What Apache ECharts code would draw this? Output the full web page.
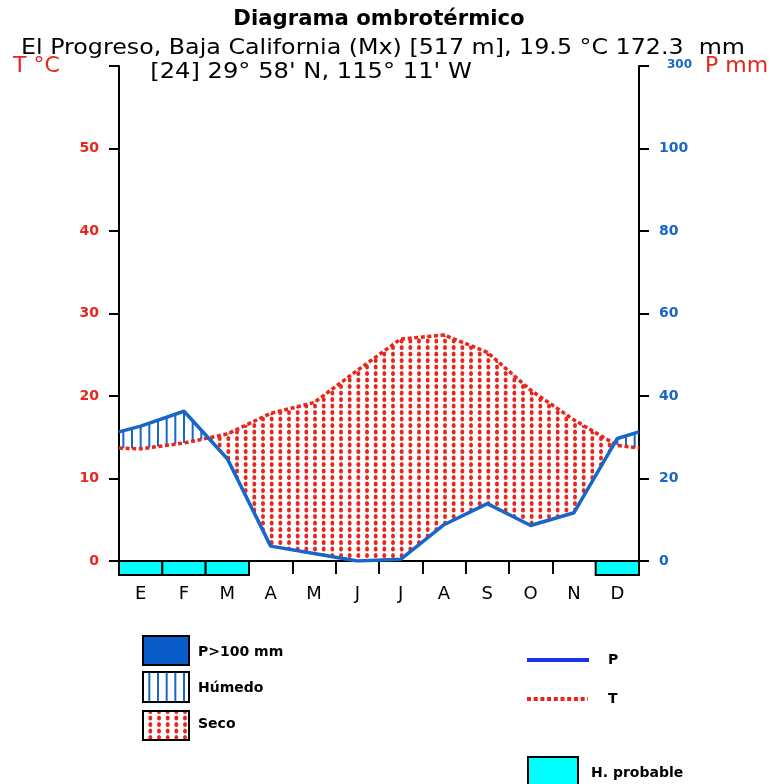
<!DOCTYPE html>
<html>
<head>
<meta charset="utf-8">
<script src="https://cdn.jsdelivr.net/npm/echarts@6/dist/echarts.min.js"></script>
<style>
    html, body { margin: 0; padding: 0; background: #fff; }
    #chart { width: 774px; height: 784px; }
</style>
</head>
<body>
<div id="chart"></div>
<script>
// monthly values
const months = ['E', 'F', 'M', 'A', 'M', 'J', 'J', 'A', 'S', 'O', 'N', 'D'];
const tempC = [13.6, 14.3, 15.4, 17.9, 19.2, 23.1, 26.9, 27.4, 25.3, 20.7, 17.1, 14.0];
const precipMm = [32.7, 36.3, 24.8, 3.6, 1.8, 0.0, 0.4, 8.8, 13.9, 8.6, 11.7, 29.7];
// value drawn at the left / right border of the plot
const tempEdge = 13.7;
const precipEdge = 31.3;
// months marked "H. probable"
const frostMonths = [0, 1, 2, 11];
const tempTicks = [0, 10, 20, 30, 40, 50];
const precipTicks = [0, 20, 40, 60, 80, 100];

const RED = '#e8261c';
const BLUE = '#1766c8';
const FONT = 'DejaVu Sans';

let make_pattern = function (kind) {
    let c = document.createElement('canvas');
    c.width = 26;
    c.height = kind === 'dots' ? 13 : 4;
    let ctx = c.getContext('2d');
    for (let k = 0; k < 3; k++) {
        let x = 1 + k * 26 / 3;
        if (kind === 'dots') {
            ctx.fillStyle = RED;
            for (let r = 0; r < 2; r++) {
                ctx.beginPath();
                ctx.ellipse(x + 2, 3 + r * 6.5, 2, 2.5, 0, 0, Math.PI * 2);
                ctx.fill();
            }
        } else {
            ctx.fillStyle = BLUE;
            ctx.fillRect(x, 0, 2, 4);
        }
    }
    return {image: c, repeat: 'repeat'};
};
const dryFill = make_pattern('dots');
const wetFill = make_pattern('lines');

// x positions: borders at 0 and 12, months at their centres
let xs = [0];
months.forEach(function (m, i) { xs.push(i + 0.5); });
xs.push(12);
let tLine = [tempEdge].concat(tempC, [tempEdge]);
let pLine = [precipEdge].concat(precipMm, [precipEdge]);
// P is drawn on a scale of 2 mm per degree
let pOnT = pLine.map(function (p) { return p / 2; });

let build_regions = function () {
    let regions = [];
    let cur = null;
    for (let i = 0; i < xs.length; i++) {
        let d = tLine[i] - pOnT[i];
        if (i === 0) {
            cur = {dry: d >= 0, pts: []};
            regions.push(cur);
        } else {
            let dp = tLine[i - 1] - pOnT[i - 1];
            if ((dp >= 0) !== (d >= 0)) {
                let f = dp / (dp - d);
                let cx = xs[i - 1] + f * (xs[i] - xs[i - 1]);
                let cy = tLine[i - 1] + f * (tLine[i] - tLine[i - 1]);
                cur.pts.push([cx, cy, cy]);
                cur = {dry: d >= 0, pts: [[cx, cy, cy]]};
                regions.push(cur);
            }
        }
        cur.pts.push([xs[i], tLine[i], pOnT[i]]);
    }
    return regions;
};

let label = function (text, x, y, font, opts) {
    opts = opts || {};
    return {
        type: 'text', x: x, y: y, scaleX: opts.sx || 1,
        style: {
            text: text, font: font, fill: opts.fill || '#000',
            align: opts.align || 'left', verticalAlign: 'middle'
        }
    };
};

let chart = echarts.init(document.getElementById('chart'));
let option = {
    animation: false,
    textStyle: {fontFamily: FONT},
    grid: {left: 119, right: 135, top: 66, bottom: 223, containLabel: false},
    xAxis: [
        {
            type: 'value', min: 0, max: 12, interval: 1,
            axisLine: {lineStyle: {color: '#000', width: 2}},
            axisTick: {inside: false, length: 13, lineStyle: {color: '#000', width: 2}},
            axisLabel: {show: false},
            splitLine: {show: false}
        },
        {
            type: 'category', data: months, boundaryGap: true, position: 'bottom',
            axisLine: {show: false}, axisTick: {show: false},
            axisLabel: {color: '#000', fontSize: 18, margin: 24, fontFamily: FONT}
        }
    ],
    yAxis: [
        {
            type: 'value', min: 0, max: 60, interval: 10, position: 'left',
            axisLine: {show: true, lineStyle: {color: '#000', width: 2}},
            axisTick: {show: true, length: 10, lineStyle: {color: '#000', width: 2}},
            axisLabel: {
                color: RED, fontWeight: 'bold', fontSize: 14, margin: 20,
                formatter: function (v) { return tempTicks.indexOf(v) >= 0 ? String(v) : ''; }
            },
            splitLine: {show: false}
        },
        {
            type: 'value', min: 0, max: 120, interval: 20, position: 'right',
            axisLine: {show: true, lineStyle: {color: '#000', width: 2}},
            axisTick: {show: true, length: 10, lineStyle: {color: '#000', width: 2}},
            axisLabel: {
                color: BLUE, fontWeight: 'bold', fontSize: 14, margin: 20,
                formatter: function (v) {
                    return precipTicks.indexOf(v) >= 0 ? String(v) : '{s|300}';
                },
                rich: {s: {color: BLUE, fontWeight: 'bold', fontSize: 12, fontFamily: FONT, padding: [0, 0, 2, 8]}}
            },
            splitLine: {show: false}
        }
    ],
    series: [
        {
            name: 'zonas',
            type: 'custom',
            xAxisIndex: 0, yAxisIndex: 0,
            z: 1,
            silent: true,
            data: [[0, 0]],
            renderItem: function (params, api) {
                let children = build_regions().map(function (r) {
                    let top = r.pts.map(function (p) { return api.coord([p[0], p[1]]); });
                    let bottom = r.pts.map(function (p) { return api.coord([p[0], p[2]]); }).reverse();
                    return {
                        type: 'polygon',
                        shape: {points: top.concat(bottom)},
                        style: {fill: r.dry ? dryFill : wetFill, stroke: null}
                    };
                });
                return {type: 'group', children: children};
            }
        },
        {
            name: 'H. probable',
            type: 'custom',
            xAxisIndex: 0, yAxisIndex: 0,
            z: 3,
            clip: false,
            silent: true,
            data: frostMonths.map(function (m) { return [m, 0]; }),
            renderItem: function (params, api) {
                let m = api.value(0);
                let p0 = api.coord([m, 0]);
                let p1 = api.coord([m + 1, 0]);
                return {
                    type: 'rect',
                    shape: {x: p0[0], y: p0[1], width: p1[0] - p0[0], height: 14},
                    style: {fill: '#00ffff', stroke: '#000', lineWidth: 2}
                };
            }
        },
        {
            name: 'T',
            type: 'line',
            yAxisIndex: 0,
            z: 4,
            symbol: 'none',
            data: xs.map(function (x, i) { return [x, tLine[i]]; }),
            lineStyle: {color: RED, width: 3.5, type: [4, 2.6], cap: 'butt'}
        },
        {
            name: 'P',
            type: 'line',
            yAxisIndex: 1,
            z: 5,
            symbol: 'none',
            data: xs.map(function (x, i) { return [x, pLine[i]]; }),
            lineStyle: {color: BLUE, width: 3.5}
        }
    ],
    graphic: [
        label('Diagrama ombrotérmico', 379, 20, 'bold 21px "DejaVu Sans"', {align: 'center', sx: 1.01}),
        label('El Progreso, Baja California (Mx) [517 m], 19.5 °C 172.3  mm', 383, 48, '22px "DejaVu Sans"', {align: 'center', sx: 1.08}),
        label("[24] 29° 58' N, 115° 11' W", 311, 72, '22px "DejaVu Sans"', {align: 'center', sx: 1.1}),
        label('T °C', 13, 66, '22px "DejaVu Sans"', {fill: RED}),
        label('P mm', 705, 66, '22px "DejaVu Sans"', {fill: RED}),
        {type: 'line', shape: {x1: 109, y1: 561, x2: 119, y2: 561}, style: {stroke: '#000', lineWidth: 2}},
        {type: 'line', shape: {x1: 639, y1: 561, x2: 649, y2: 561}, style: {stroke: '#000', lineWidth: 2}},
        {type: 'rect', shape: {x: 143, y: 636, width: 46, height: 29}, style: {fill: '#0a5cc8', stroke: '#000', lineWidth: 2}},
        label('P>100 mm', 198, 652, 'bold 14px "DejaVu Sans"'),
        {type: 'rect', shape: {x: 143, y: 672, width: 46, height: 30}, style: {fill: wetFill, stroke: '#000', lineWidth: 2}},
        label('Húmedo', 198, 688, 'bold 14px "DejaVu Sans"'),
        {type: 'rect', shape: {x: 143, y: 711, width: 46, height: 29}, style: {fill: dryFill, stroke: '#000', lineWidth: 2}},
        label('Seco', 198, 724, 'bold 14px "DejaVu Sans"'),
        {type: 'line', shape: {x1: 527, y1: 660, x2: 589, y2: 660}, style: {stroke: '#1a33e6', lineWidth: 4}},
        label('P', 608, 660, 'bold 14px "DejaVu Sans"'),
        {type: 'line', shape: {x1: 527, y1: 699, x2: 588, y2: 699}, style: {stroke: RED, lineWidth: 4, lineDash: [4, 2.7]}},
        label('T', 608, 699, 'bold 14px "DejaVu Sans"'),
        {type: 'rect', shape: {x: 528, y: 757, width: 50, height: 40}, style: {fill: '#00ffff', stroke: '#000', lineWidth: 2}},
        label('H. probable', 591, 773, 'bold 14px "DejaVu Sans"')
    ]
};
chart.setOption(option, true);
</script>
</body>
</html>
